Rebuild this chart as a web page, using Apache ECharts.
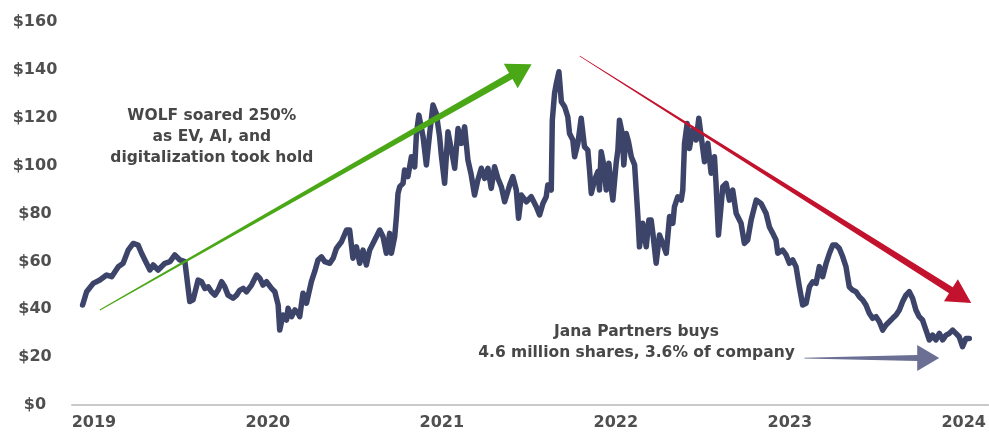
<!DOCTYPE html>
<html>
<head>
<meta charset="utf-8">
<script src="https://cdn.jsdelivr.net/npm/echarts@6/dist/echarts.min.js"></script>
<style>
html,body{margin:0;padding:0;background:#fff;}
#chart{width:989px;height:432px;}
</style>
</head>
<body>
<div id="chart"></div>
<script>
// ---- data (decimal year, share price in $) ----
const dates = [
2018.935,2018.958,2018.996,2019.034,2019.073,2019.102,2019.140,2019.168,2019.197,2019.226,
2019.254,2019.274,2019.293,2019.322,2019.341,2019.369,2019.408,2019.437,2019.465,2019.494,
2019.523,2019.551,2019.570,2019.599,2019.619,2019.638,2019.657,2019.676,2019.695,2019.714,
2019.734,2019.752,2019.771,2019.800,2019.820,2019.839,2019.858,2019.877,2019.906,2019.935,
2019.954,2019.972,2019.992,2020.021,2020.040,2020.059,2020.068,2020.087,2020.107,2020.116,
2020.136,2020.155,2020.174,2020.183,2020.202,2020.222,2020.250,2020.269,2020.288,2020.308,
2020.327,2020.356,2020.375,2020.394,2020.423,2020.452,2020.470,2020.489,2020.509,2020.528,
2020.547,2020.566,2020.585,2020.614,2020.643,2020.662,2020.681,2020.700,2020.710,2020.729,
2020.739,2020.748,2020.758,2020.777,2020.786,2020.805,2020.825,2020.844,2020.854,2020.868,
2020.892,2020.911,2020.930,2020.949,2020.968,2020.987,2020.997,2021.016,2021.035,2021.055,
2021.074,2021.093,2021.112,2021.131,2021.150,2021.169,2021.188,2021.207,2021.227,2021.246,
2021.265,2021.284,2021.303,2021.322,2021.342,2021.361,2021.390,2021.408,2021.428,2021.441,
2021.457,2021.486,2021.514,2021.523,2021.543,2021.562,2021.581,2021.600,2021.609,2021.629,
2021.635,2021.648,2021.658,2021.673,2021.687,2021.706,2021.724,2021.734,2021.753,2021.763,
2021.782,2021.801,2021.820,2021.839,2021.849,2021.859,2021.878,2021.897,2021.906,2021.916,
2021.929,2021.945,2021.960,2021.974,2021.983,2022.002,2022.012,2022.021,2022.037,2022.046,
2022.060,2022.073,2022.089,2022.108,2022.127,2022.136,2022.155,2022.175,2022.190,2022.203,
2022.213,2022.232,2022.251,2022.270,2022.290,2022.309,2022.328,2022.337,2022.356,2022.376,
2022.385,2022.395,2022.410,2022.423,2022.442,2022.462,2022.477,2022.491,2022.510,2022.529,
2022.548,2022.567,2022.576,2022.590,2022.615,2022.634,2022.653,2022.672,2022.692,2022.720,
2022.739,2022.758,2022.778,2022.807,2022.835,2022.864,2022.883,2022.902,2022.921,2022.931,
2022.959,2022.979,2022.998,2023.017,2023.036,2023.055,2023.074,2023.094,2023.113,2023.132,
2023.151,2023.170,2023.189,2023.209,2023.228,2023.247,2023.266,2023.285,2023.304,2023.323,
2023.342,2023.361,2023.381,2023.400,2023.419,2023.438,2023.457,2023.476,2023.496,2023.515,
2023.534,2023.553,2023.572,2023.591,2023.611,2023.630,2023.649,2023.668,2023.687,2023.706,
2023.725,2023.744,2023.763,2023.783,2023.802,2023.821,2023.840,2023.860,2023.879,2023.898,
2023.917,2023.936,2023.955,2023.974,2023.993,2024.013,2024.032
];
const prices = [
41.8,47.3,50.8,52.2,54.3,53.6,57.8,59.2,64.7,67.5,
66.8,63.4,60.6,56.4,58.5,56.4,59.2,59.9,62.7,60.6,
59.9,43.2,43.9,52.2,51.5,48.7,49.4,47.3,45.9,48.0,
51.5,49.4,45.9,44.6,45.9,48.0,48.7,47.3,50.1,54.3,
52.9,50.1,51.5,48.7,47.3,41.8,31.3,37.6,35.5,40.4,
36.9,39.7,38.3,36.9,46.7,42.5,51.5,55.7,60.6,61.9,
59.9,59.2,61.3,65.4,68.2,73.1,73.1,61.3,66.1,59.2,
64.7,58.5,64.7,68.9,73.1,70.3,63.4,71.7,63.4,70.3,
78.7,88.4,91.2,92.6,98.2,95.4,103.7,99.5,113.4,121.1,
112.1,100.3,113.4,125.3,121.8,112.1,104.4,92.6,114.2,106.5,
98.9,115.5,109.3,116.2,102.3,96.1,87.7,94.0,98.9,94.7,
98.9,90.5,99.5,94.7,91.2,84.9,91.9,95.4,89.8,78.0,
87.7,84.9,87.0,87.7,82.8,79.4,84.2,87.0,91.9,89.8,
119.0,130.2,134.3,139.2,126.7,124.6,120.4,113.4,110.7,103.7,
109.3,119.8,107.9,106.5,98.2,88.4,94.0,97.5,89.8,105.8,
101.0,89.8,101.0,90.5,85.6,101.0,106.5,119.0,113.4,100.3,
113.4,110.0,103.7,100.3,78.7,66.1,75.9,66.1,77.3,77.3,
71.7,59.2,71.0,67.5,63.4,78.7,75.9,82.8,87.0,85.6,
89.8,109.3,117.6,107.2,114.9,110.7,119.8,112.1,101.6,109.3,
96.8,103.7,92.6,71.0,91.2,92.6,85.6,89.8,80.0,75.9,
67.5,68.9,77.3,85.6,84.2,80.0,74.4,71.7,68.9,63.4,
64.7,62.7,59.2,60.6,57.8,49.4,41.8,42.5,49.4,51.5,
50.8,57.8,53.6,59.2,63.4,66.8,66.8,65.4,62.0,57.8,
49.4,48.0,47.3,45.2,43.9,41.8,38.3,36.2,36.9,34.8,
31.3,33.4,34.8,36.2,37.6,39.7,43.2,45.9,47.3,44.6,
39.7,36.9,35.5,31.3,27.2,29.2,27.2,29.9,27.2,29.2,
29.9,31.3,29.9,28.5,24.4,27.8,27.8
];
const yearTicks = [2019, 2020, 2021, 2022, 2023, 2024];
const priceTicks = [0, 20, 40, 60, 80, 100, 120, 140, 160];

// annotation arrows (data coords: [year, price])
const arrowStarts = [[2019.034, 39.7], [2021.792, 145.8], [2023.084, 19.6]];
const arrowEnds   = [[2021.516, 142.4], [2024.043, 42.6], [2023.859, 19.6]];
// annotation texts (anchored at data coords)
const noteTexts = ['WOLF soared 250%\nas EV, AI, and\ndigitalization took hold',
                   'Jana Partners buys\n4.6 million shares, 3.6% of company'];
const noteAnchors = [[2019.678, 111.9], [2022.119, 26.3]];

// ---- styles ----
const arrowColors = ['#4aa817', '#c3122e', '#6b6f94'];
const arrowShape = [
  {w0: 1, w1: 7, headLen: 24, headHalf: 14},
  {w0: 0.8, w1: 7, headLen: 24, headHalf: 13},
  {w0: 0.8, w1: 6, headLen: 22, headHalf: 13}
];

const chart = echarts.init(document.getElementById('chart'), null, {renderer: 'canvas'});

function arrowPolygon(p1, p2, s) {
  const dx = p2[0] - p1[0], dy = p2[1] - p1[1];
  const L = Math.hypot(dx, dy), ux = dx / L, uy = dy / L, nx = -uy, ny = ux;
  const bx = p2[0] - ux * s.headLen, by = p2[1] - uy * s.headLen;
  return [
    [p1[0] + nx * s.w0 / 2, p1[1] + ny * s.w0 / 2],
    [bx + nx * s.w1 / 2, by + ny * s.w1 / 2],
    [bx + nx * s.headHalf, by + ny * s.headHalf],
    [p2[0], p2[1]],
    [bx - nx * s.headHalf, by - ny * s.headHalf],
    [bx - nx * s.w1 / 2, by - ny * s.w1 / 2],
    [p1[0] - nx * s.w0 / 2, p1[1] - ny * s.w0 / 2]
  ];
}

const labelFont = 'DejaVu Sans';

chart.setOption({
  animation: false,
  backgroundColor: '#ffffff',
  grid: {left: 72, right: 0, top: 22, bottom: 27, containLabel: false},
  xAxis: {
    type: 'value',
    min: 2018.874,
    max: 2024.141,
    splitLine: {show: false},
    axisTick: {show: false},
    axisLine: {show: true, lineStyle: {color: '#c9c9c9', width: 2}},
    axisLabel: {
      customValues: yearTicks,
      margin: 10,
      color: '#4f4f4f',
      fontFamily: labelFont,
      fontWeight: 'bold',
      fontSize: 16,
      formatter: v => String(Math.round(v))
    }
  },
  yAxis: {
    type: 'value',
    min: 0,
    max: 160,
    interval: 20,
    splitLine: {show: false},
    axisTick: {show: false},
    axisLine: {show: false},
    axisLabel: {
      customValues: priceTicks,
      align: 'center',
      margin: 37,
      color: '#4f4f4f',
      fontFamily: labelFont,
      fontWeight: 'bold',
      fontSize: 16,
      formatter: v => '$' + v
    }
  },
  series: [
    {
      type: 'line',
      data: dates.map((d, i) => [d, prices[i]]),
      showSymbol: false,
      symbol: 'none',
      lineStyle: {color: '#3d4469', width: 5.5, join: 'round', cap: 'round'},
      z: 2
    },
    {
      type: 'custom',
      clip: false,
      z: 5,
      encode: {x: [0, 2], y: [1, 3]},
      data: arrowStarts.map((s, i) => [s[0], s[1], arrowEnds[i][0], arrowEnds[i][1]]),
      renderItem: function (params, api) {
        const p1 = api.coord([api.value(0), api.value(1)]);
        const p2 = api.coord([api.value(2), api.value(3)]);
        const i = params.dataIndex;
        return {
          type: 'polygon',
          shape: {points: arrowPolygon(p1, p2, arrowShape[i])},
          style: {fill: arrowColors[i]}
        };
      }
    },
    {
      type: 'custom',
      clip: false,
      z: 6,
      data: noteAnchors,
      renderItem: function (params, api) {
        const p = api.coord([api.value(0), api.value(1)]);
        return {
          type: 'text',
          x: p[0],
          y: p[1],
          style: {
            text: noteTexts[params.dataIndex],
            fill: '#474747',
            fontFamily: labelFont,
            fontWeight: 'bold',
            fontSize: 15.5,
            lineHeight: 21,
            align: 'center',
            verticalAlign: 'middle'
          }
        };
      }
    }
  ]
});
</script>
</body>
</html>
